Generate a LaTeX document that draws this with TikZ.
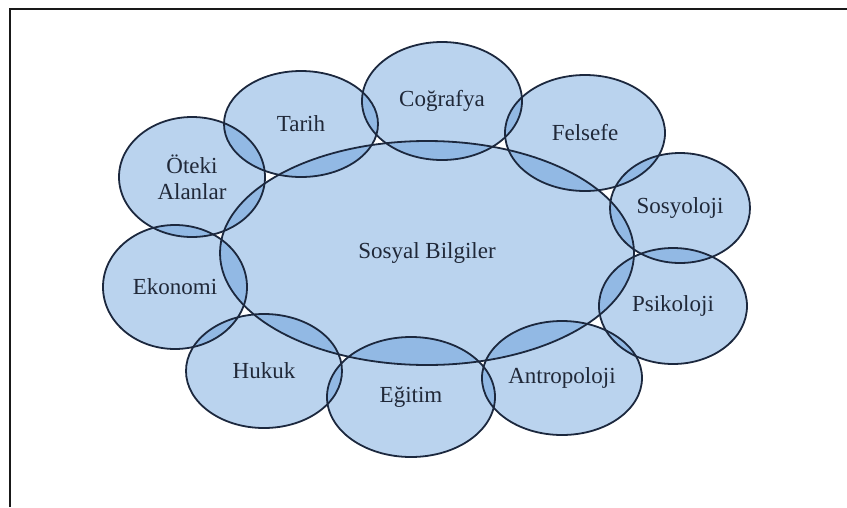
\documentclass[tikz,border=0pt]{standalone}
\usepackage{fontspec}
\setmainfont{Liberation Serif}
\usetikzlibrary{shapes.geometric,calc}

\definecolor{blobfill}{RGB}{90,150,215}
\definecolor{blobedge}{RGB}{28,40,62}
\definecolor{labeltext}{RGB}{32,40,56}

\tikzset{
  blob/.style={ellipse, inner sep=0pt, outer sep=0pt,
    fill=blobfill, fill opacity=0.42, text opacity=1,
    text=labeltext, align=center,
    font=\fontsize{23}{26}\selectfont},
  blobedge/.style={draw=blobedge, line width=1.8pt},
  frameline/.style={draw=black!90, line width=2.4pt}
}

\begin{document}
\begin{tikzpicture}[x=1pt,y=-1pt]
\useasboundingbox (0,0) rectangle (847,507);

% open frame: left and top sides only
\coordinate (fbl) at (10,507);
\coordinate (ftl) at (10,9);
\coordinate (ftr) at (847,9);
\draw[frameline] (fbl) -- (ftl) -- (ftr);

% central field and the surrounding disciplines
\foreach \k/\x/\y/\rx/\ry/\t in {
  center/427/253/207/112/{Sosyal Bilgiler},
  cografya/442/101/80/59/{Coğrafya},
  tarih/301/124/77/53/{Tarih},
  oteki/192/177/73/60/{Öteki\\Alanlar},
  felsefe/585/133/80/58/{Felsefe},
  sosyoloji/680/208/70/55/{Sosyoloji},
  psikoloji/673/306/74/58/{Psikoloji},
  ekonomi/175/287/72/62/{Ekonomi},
  hukuk/264/371/78/57/{Hukuk},
  egitim/411/397/84/60/{Eğitim},
  antropoloji/562/378/80/57/{Antropoloji}}
{
  \node[blob, minimum width=2*\rx pt, minimum height=2*\ry pt] (\k) at (\x,\y) {\t};
}

% outlines on top of all fills
\foreach \k in {center,cografya,tarih,oteki,felsefe,sosyoloji,psikoloji,ekonomi,hukuk,egitim,antropoloji}
{
  \draw[blobedge] let \p1=($(\k.east)-(\k.center)$), \p2=($(\k.north)-(\k.center)$) in
    (\k.center) ellipse [x radius=\x1, y radius=\y2];
}
\end{tikzpicture}
\end{document}
